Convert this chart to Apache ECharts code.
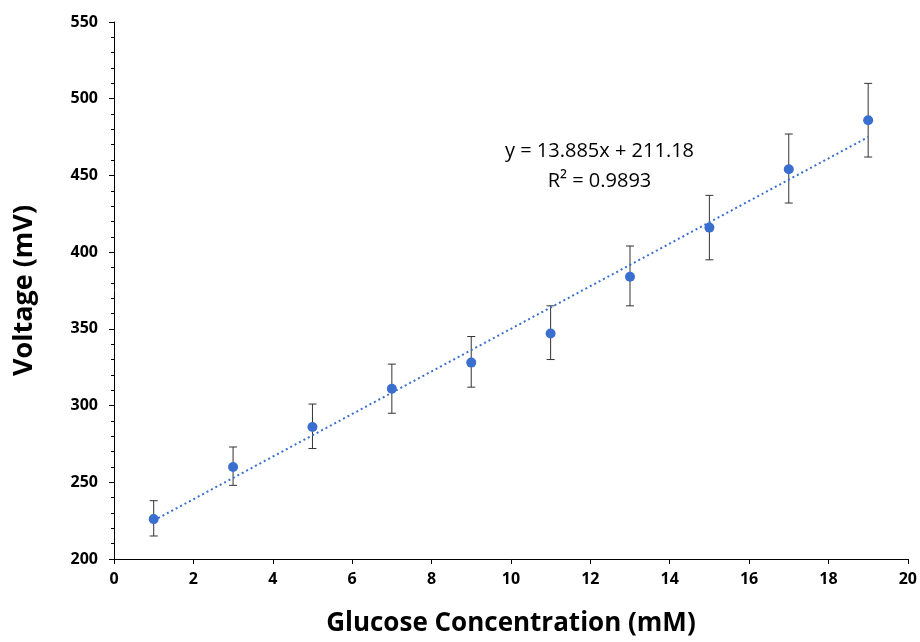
<!DOCTYPE html>
<html>
<head>
<meta charset="utf-8">
<script src="https://cdn.jsdelivr.net/npm/echarts@6/dist/echarts.min.js"></script>
<style>html,body{margin:0;padding:0;background:#fff}#chart{width:920px;height:642px}</style>
</head>
<body>
<div id="chart"></div>
<script>
// --- Data ---
var glucose = [1, 3, 5, 7, 9, 11, 13, 15, 17, 19];
var voltage = [226, 260, 286, 311, 328, 347, 384, 416, 454, 486];
var errLow  = [215, 248, 272, 295, 312, 330, 365, 395, 432, 462];
var errHigh = [238, 273, 301, 327, 345, 365, 404, 437, 477, 510];
// trendline endpoints (y = 13.885x + 211.18)
var trendX = [1, 19];
var trendY = [225.07, 475.0];

var points = glucose.map(function (x, i) { return [x, voltage[i]]; });
var bars = glucose.map(function (x, i) { return [x, errLow[i], errHigh[i]]; });
var trend = trendX.map(function (x, i) { return [x, trendY[i]]; });

var chart = echarts.init(document.getElementById('chart'));
var font = 'Open Sans';

chart.setOption({
  animation: false,
  grid: { left: 114, right: 10, top: 22, bottom: 80, containLabel: false },
  xAxis: {
    type: 'value', min: 0, max: 20, interval: 2,
    name: 'Glucose Concentration (mM)', nameLocation: 'middle', nameGap: 52,
    nameTextStyle: { fontFamily: font, fontWeight: 'bold', fontSize: 26, color: '#000' },
    axisLine: { lineStyle: { color: '#000' } },
    axisTick: { show: true, lineStyle: { color: '#000' } },
    axisLabel: { fontFamily: font, fontWeight: 'bold', fontSize: 16, color: '#000', margin: 12 },
    splitLine: { show: false }
  },
  yAxis: {
    type: 'value', min: 200, max: 550, interval: 50,
    name: 'Voltage (mV)', nameLocation: 'middle', nameGap: 76,
    nameTextStyle: { fontFamily: font, fontWeight: 'bold', fontSize: 27, color: '#000' },
    axisLine: { show: true, lineStyle: { color: '#000' } },
    axisTick: { show: true, lineStyle: { color: '#000' } },
    minorTick: { show: true, splitNumber: 5, length: 3, lineStyle: { color: '#000' } },
    axisLabel: { fontFamily: font, fontWeight: 'bold', fontSize: 16, color: '#000', margin: 16 },
    splitLine: { show: false }
  },
  series: [
    {
      type: 'line', data: trend, symbol: 'none',
      lineStyle: { color: '#3a6fd0', width: 2, type: [2, 3] }
    },
    {
      type: 'custom', data: bars,
      renderItem: function (params, api) {
        var x = api.value(0);
        var lo = api.coord([x, api.value(1)]);
        var hi = api.coord([x, api.value(2)]);
        var w = 4;
        var st = { stroke: '#333', lineWidth: 1 };
        return { type: 'group', children: [
          { type: 'line', shape: { x1: lo[0], y1: lo[1], x2: hi[0], y2: hi[1] }, style: st },
          { type: 'line', shape: { x1: lo[0] - w, y1: lo[1], x2: lo[0] + w, y2: lo[1] }, style: st },
          { type: 'line', shape: { x1: hi[0] - w, y1: hi[1], x2: hi[0] + w, y2: hi[1] }, style: st }
        ] };
      }
    },
    {
      type: 'scatter', data: points, symbolSize: 10,
      itemStyle: { color: '#3a6fd0', opacity: 1 }, z: 5
    }
  ],
  graphic: [{
    type: 'text', left: 505, top: 136,
    style: { text: 'y = 13.885x + 211.18\nR² = 0.9893', font: '20px "Open Sans"', fill: '#000', lineHeight: 30, align: 'center', textAlign: 'center' }
  }]
});
</script>
</body>
</html>
